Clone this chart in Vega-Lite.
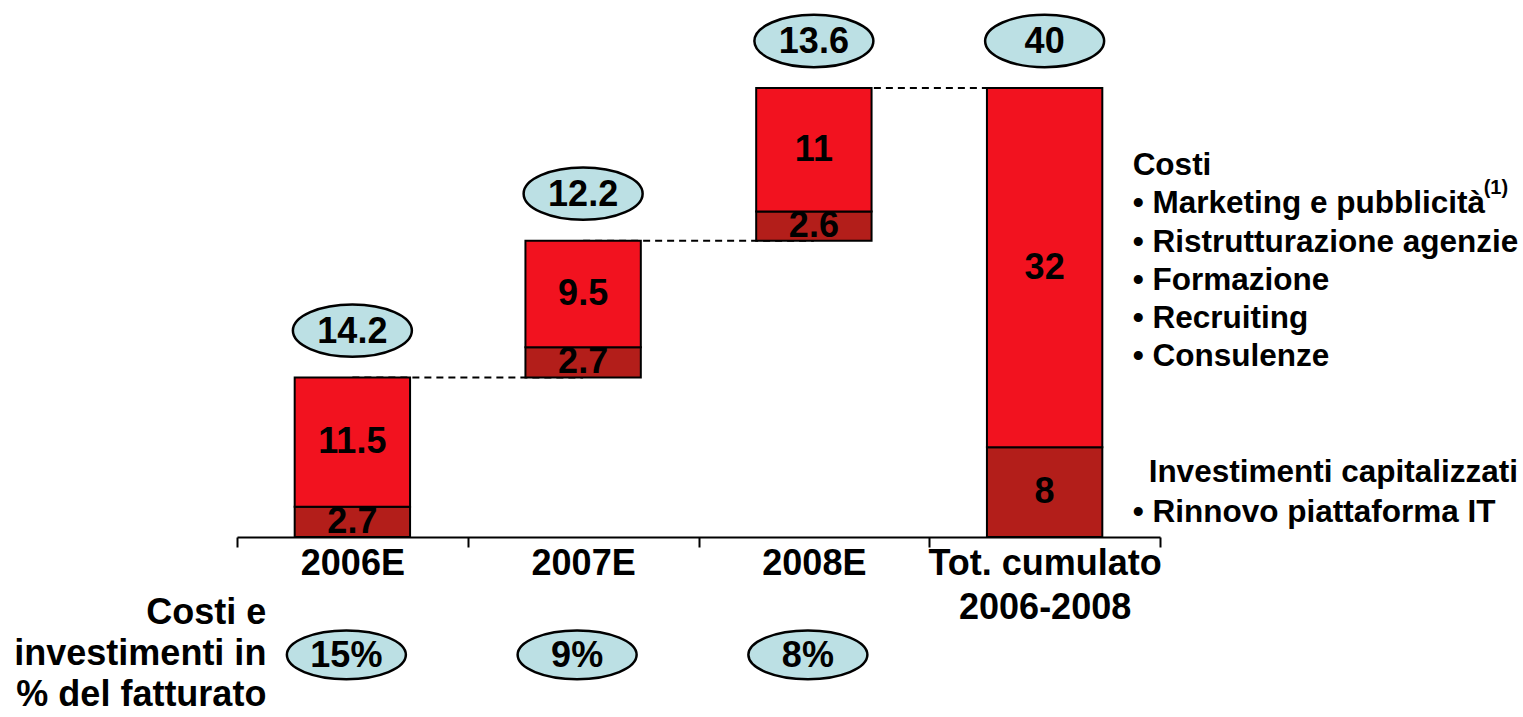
{
  "$schema": "https://vega.github.io/schema/vega-lite/v6.json",
  "autosize": "none",
  "width": 923,
  "height": 537,
  "padding": {"left": 237, "top": 0, "right": 363, "bottom": 180},
  "background": "white",
  "config": {
    "view": {"stroke": null},
    "font": "Liberation Sans",
    "axisX": {
      "domain": true, "domainColor": "black", "domainWidth": 2,
      "ticks": true, "tickBand": "extent", "tickSize": 10, "tickWidth": 2, "tickColor": "black",
      "labelFont": "Liberation Sans", "labelFontSize": 36, "labelFontWeight": "bold", "labelColor": "black",
      "labelPadding": -1, "labelLineHeight": 44, "labelAngle": 0, "labelOverlap": false, "labelLimit": 400, "labelBound": false,
      "grid": false,
      "labelExpr": "datum.label == 'Tot. cumulato 2006-2008' ? ['Tot. cumulato', '2006-2008'] : datum.label"
    }
  },
  "datasets": {
    "bars": [
      {"cat": "2006E", "part": "Investimenti", "start": 0, "end": 2.7, "label": "2.7"},
      {"cat": "2006E", "part": "Costi", "start": 2.7, "end": 14.2, "label": "11.5"},
      {"cat": "2007E", "part": "Investimenti", "start": 14.2, "end": 16.9, "label": "2.7"},
      {"cat": "2007E", "part": "Costi", "start": 16.9, "end": 26.4, "label": "9.5"},
      {"cat": "2008E", "part": "Investimenti", "start": 26.4, "end": 29.0, "label": "2.6"},
      {"cat": "2008E", "part": "Costi", "start": 29.0, "end": 40.0, "label": "11"},
      {"cat": "Tot. cumulato 2006-2008", "part": "Investimenti", "start": 0, "end": 8, "label": "8"},
      {"cat": "Tot. cumulato 2006-2008", "part": "Costi", "start": 8, "end": 40, "label": "32"}
    ],
    "tops": [
      {"cat": "2006E", "top": 14.2, "total": "14.2"},
      {"cat": "2007E", "top": 26.4, "total": "12.2"},
      {"cat": "2008E", "top": 40.0, "total": "13.6"},
      {"cat": "Tot. cumulato 2006-2008", "top": 40.0, "total": "40"}
    ],
    "links": [
      {"cat": "2006E", "next": "2007E", "level": 14.2},
      {"cat": "2007E", "next": "2008E", "level": 26.4},
      {"cat": "2008E", "next": "Tot. cumulato 2006-2008", "level": 40.0}
    ],
    "pct": [
      {"cat": "2006E", "pct": "15%"},
      {"cat": "2007E", "pct": "9%"},
      {"cat": "2008E", "pct": "8%"}
    ]
  },
  "layer": [
    {
      "data": {"name": "links"},
      "mark": {"type": "rule", "strokeDash": [7, 5], "strokeWidth": 2, "color": "black"},
      "encoding": {
        "x": {"field": "cat", "type": "nominal", "title": null},
        "x2": {"field": "next"},
        "y": {"field": "level", "type": "quantitative", "axis": null}
      }
    },
    {
      "data": {"name": "bars"},
      "mark": {"type": "bar", "width": {"band": 0.5}, "stroke": "black", "strokeWidth": 2, "opacity": 1},
      "encoding": {
        "x": {"field": "cat", "type": "nominal", "title": null,
              "scale": {"domain": ["2006E", "2007E", "2008E", "Tot. cumulato 2006-2008"], "paddingInner": 0, "paddingOuter": 0}},
        "y": {"field": "start", "type": "quantitative", "axis": null,
              "scale": {"domain": [0, 47.84], "nice": false, "zero": false}},
        "y2": {"field": "end"},
        "color": {"field": "part", "type": "nominal", "legend": null,
                  "scale": {"domain": ["Costi", "Investimenti"], "range": ["#F2121F", "#B31E1A"]}}
      }
    },
    {
      "data": {"name": "bars"},
      "transform": [{"fold": ["start", "end"], "as": ["k", "v"]}],
      "mark": {"type": "text", "fontSize": 36, "fontWeight": "bold", "color": "black", "baseline": "middle", "align": "center"},
      "encoding": {
        "x": {"field": "cat", "type": "nominal", "title": null},
        "y": {"aggregate": "mean", "field": "v", "type": "quantitative", "axis": null},
        "text": {"field": "label", "type": "nominal"},
        "detail": {"field": "part", "type": "nominal"}
      }
    },
    {
      "data": {"name": "tops"},
      "mark": {"type": "point", "shape": "M -1 0 A 1 0.44 0 1 1 1 0 A 1 0.44 0 1 1 -1 0 Z", "size": 14161,
               "filled": true, "fill": "#BCE0E4", "stroke": "black", "strokeWidth": 2.5, "opacity": 1, "yOffset": -47},
      "encoding": {
        "x": {"field": "cat", "type": "nominal", "title": null},
        "y": {"field": "top", "type": "quantitative", "axis": null}
      }
    },
    {
      "data": {"name": "tops"},
      "mark": {"type": "text", "fontSize": 36, "fontWeight": "bold", "color": "black", "baseline": "middle", "align": "center", "yOffset": -46},
      "encoding": {
        "x": {"field": "cat", "type": "nominal", "title": null},
        "y": {"field": "top", "type": "quantitative", "axis": null},
        "text": {"field": "total", "type": "nominal"}
      }
    },
    {
      "data": {"name": "pct"},
      "mark": {"type": "point", "shape": "M -1 0 A 1 0.41 0 1 1 1 0 A 1 0.41 0 1 1 -1 0 Z", "size": 14161,
               "filled": true, "fill": "#BCE0E4", "stroke": "black", "strokeWidth": 2.5, "opacity": 1, "xOffset": -6},
      "encoding": {
        "x": {"field": "cat", "type": "nominal", "title": null},
        "y": {"datum": -10.5, "type": "quantitative", "axis": null}
      }
    },
    {
      "data": {"name": "pct"},
      "mark": {"type": "text", "fontSize": 36, "fontWeight": "bold", "color": "black", "baseline": "middle", "align": "center", "xOffset": -6, "yOffset": 1},
      "encoding": {
        "x": {"field": "cat", "type": "nominal", "title": null},
        "y": {"datum": -10.5, "type": "quantitative", "axis": null},
        "text": {"field": "pct", "type": "nominal"}
      }
    },
    {
      "data": {"values": [{"t": "Costi\n• Marketing e pubblicità\n• Ristrutturazione agenzie\n• Formazione\n• Recruiting\n• Consulenze"}]},
      "mark": {"type": "text", "fontSize": 31.5, "fontWeight": "bold", "color": "black", "align": "left", "baseline": "alphabetic",
               "lineBreak": "\n", "lineHeight": 38.3, "dx": 88},
      "encoding": {
        "x": {"datum": "Tot. cumulato 2006-2008", "type": "nominal", "title": null},
        "y": {"datum": 32.25, "type": "quantitative", "axis": null},
        "text": {"field": "t", "type": "nominal"}
      }
    },
    {
      "data": {"values": [{"t": "(1)"}]},
      "mark": {"type": "text", "fontSize": 20, "fontWeight": "bold", "color": "black", "align": "left", "baseline": "alphabetic", "dx": 439},
      "encoding": {
        "x": {"datum": "Tot. cumulato 2006-2008", "type": "nominal", "title": null},
        "y": {"datum": 30.6, "type": "quantitative", "axis": null},
        "text": {"field": "t", "type": "nominal"}
      }
    },
    {
      "data": {"values": [{"t": "Investimenti capitalizzati"}]},
      "mark": {"type": "text", "fontSize": 31.5, "fontWeight": "bold", "color": "black", "align": "left", "baseline": "alphabetic", "dx": 104},
      "encoding": {
        "x": {"datum": "Tot. cumulato 2006-2008", "type": "nominal", "title": null},
        "y": {"datum": 4.93, "type": "quantitative", "axis": null},
        "text": {"field": "t", "type": "nominal"}
      }
    },
    {
      "data": {"values": [{"t": "• Rinnovo piattaforma IT"}]},
      "mark": {"type": "text", "fontSize": 31.5, "fontWeight": "bold", "color": "black", "align": "left", "baseline": "alphabetic", "dx": 88},
      "encoding": {
        "x": {"datum": "Tot. cumulato 2006-2008", "type": "nominal", "title": null},
        "y": {"datum": 1.36, "type": "quantitative", "axis": null},
        "text": {"field": "t", "type": "nominal"}
      }
    },
    {
      "data": {"values": [{"t": "Costi e\ninvestimenti in\n% del fatturato"}]},
      "mark": {"type": "text", "fontSize": 36, "fontWeight": "bold", "color": "black", "align": "right", "baseline": "alphabetic",
               "lineBreak": "\n", "lineHeight": 41, "dx": -86},
      "encoding": {
        "x": {"datum": "2006E", "type": "nominal", "title": null},
        "y": {"datum": -7.75, "type": "quantitative", "axis": null},
        "text": {"field": "t", "type": "nominal"}
      }
    }
  ]
}
